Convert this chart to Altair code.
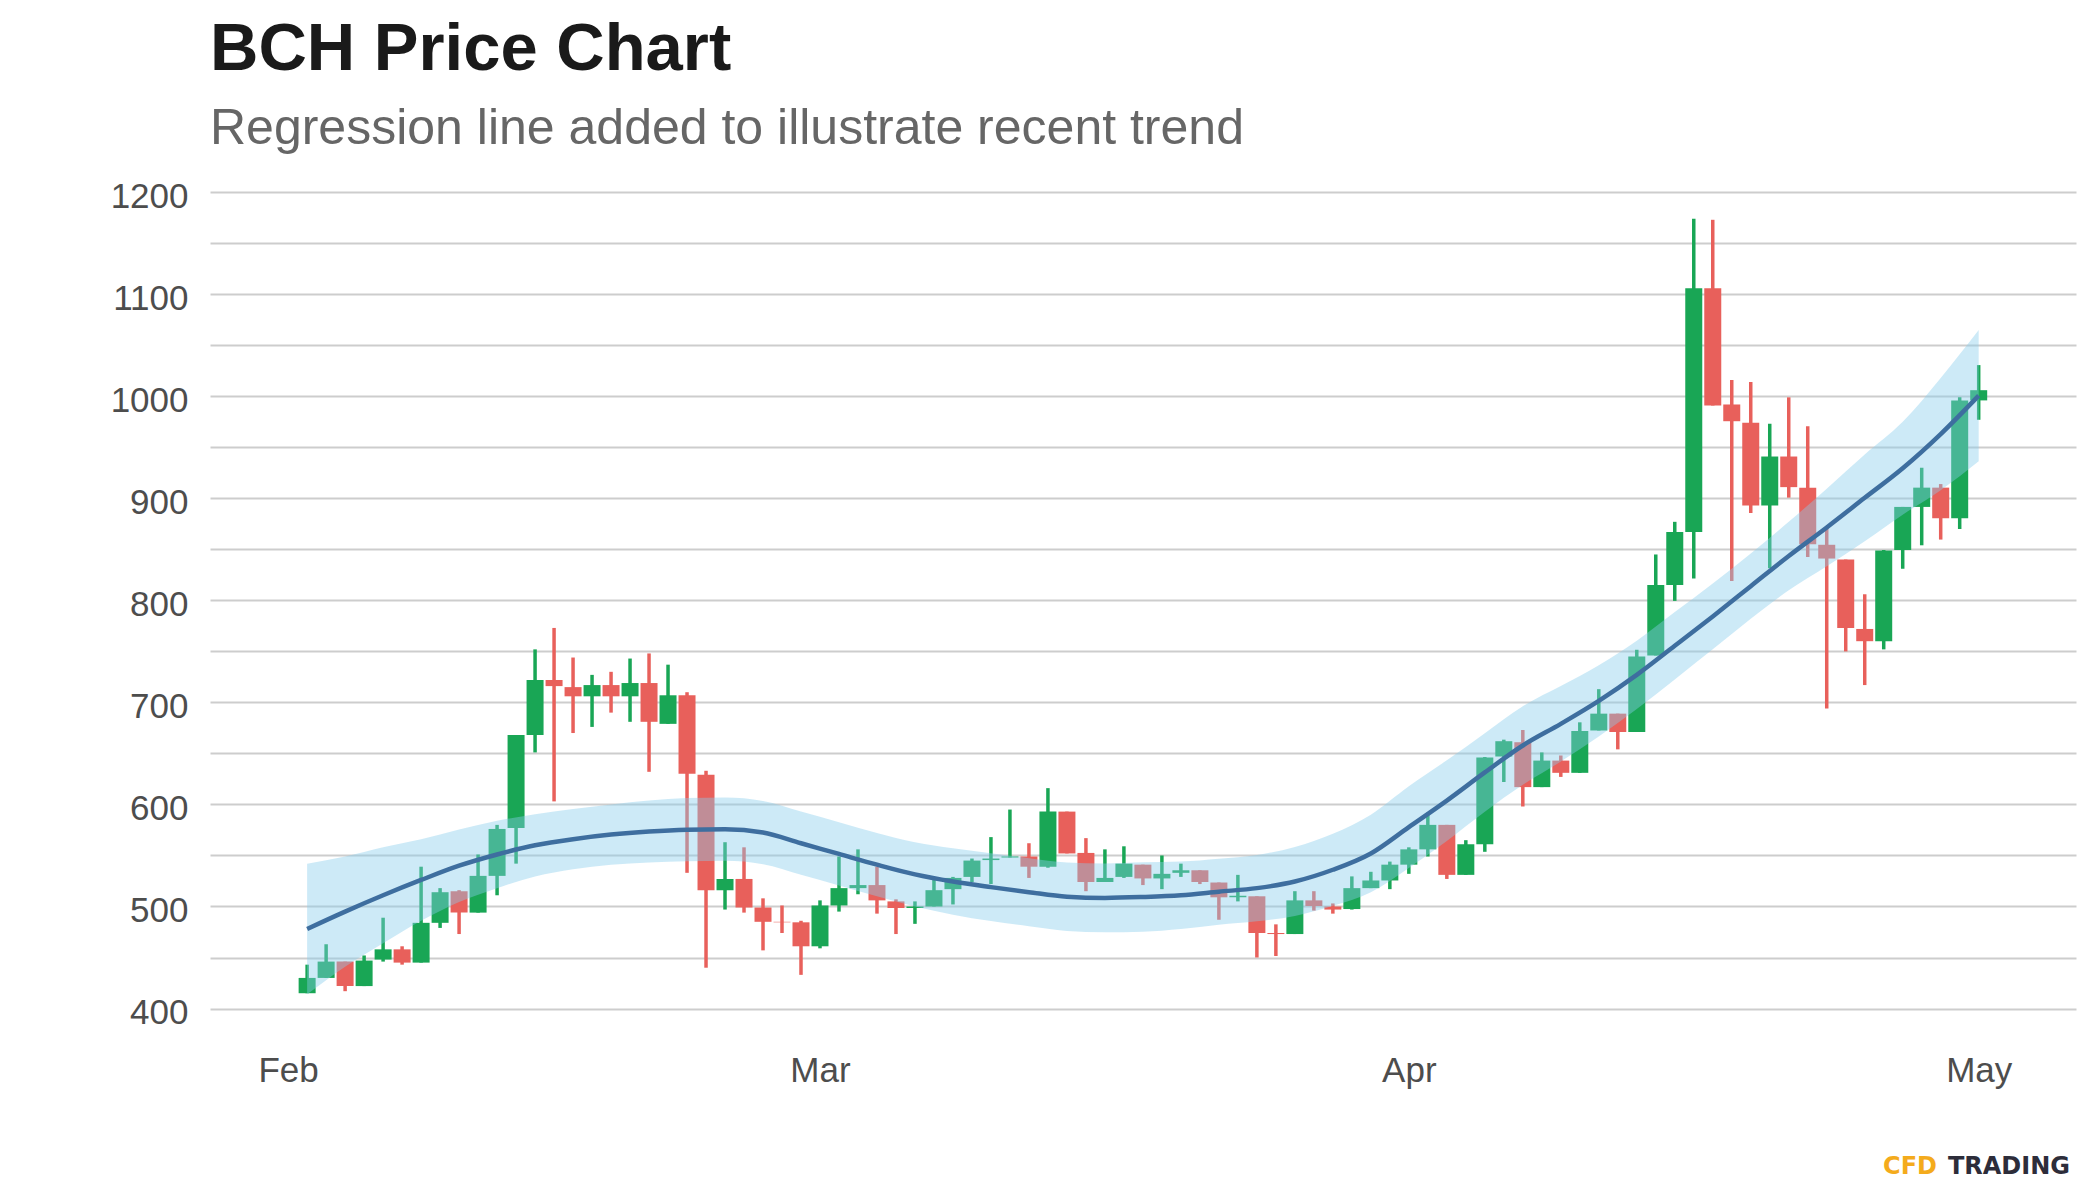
import altair as alt
import pandas as pd

# ---- data (daily BCH candles, 2 Feb - 1 May 2021) ----
start_date = "2021-02-02"
n_days = 89
dates = pd.date_range(start_date, periods=n_days, freq="D").strftime("%Y-%m-%d").tolist()

open_p = [415, 430, 446, 422, 448, 458, 445, 484, 515, 494,
          530, 577, 668, 722, 715, 706, 717, 706, 719, 679,
          707, 629, 516, 527, 499, 485, 484.5, 461, 501, 518,
          521, 505, 498.5, 500, 517, 529, 545.5, 548, 549, 539,
          593, 552.5, 524, 529, 541, 527.5, 533, 535.5, 523.5, 509,
          510, 474, 473, 506, 500, 497.5, 518, 525.5, 541, 556,
          580, 531, 561, 647, 661, 617, 643, 631, 672.5, 689,
          671, 746, 815, 867, 1106, 992, 974, 893, 941, 910.5,
          854.5, 840, 772, 760, 849.4, 891.6, 910.5, 880.5, 996]
high_p = [443, 463, 446, 452, 489, 461, 539, 518, 516, 551,
          580, 668, 752, 773, 744, 727, 730, 743, 748, 737,
          710, 633, 563, 558, 508, 501, 486, 506, 549, 556,
          539, 507, 505, 526, 529, 547, 568, 595, 562, 616,
          593, 567, 556, 559, 541, 550, 542, 535.5, 523.5, 531,
          510, 482.5, 515, 515, 503, 529.5, 534, 544, 558, 592,
          580, 565, 646.5, 663.5, 673, 651, 648, 680.5, 713, 689,
          751.6, 845, 877, 1174, 1173, 1016, 1014, 973, 999, 970.6,
          872, 840, 806, 849.4, 891.6, 930, 914, 999, 1030.6]
low_p = [415, 430, 417, 422, 446, 443, 445, 479, 473, 494,
         511, 542, 651, 603, 670, 676, 690, 681, 632, 679,
         533, 440, 497, 494, 457, 474, 433, 459, 495, 512,
         493, 473, 483, 500, 502, 524, 522, 548, 528, 538,
         552, 515, 524, 528, 521, 517, 529, 522, 487, 505,
         450, 451.5, 473, 496, 493, 497, 518, 517, 532, 549,
         527, 531, 553.6, 622, 598, 617, 627, 631, 672.5, 654,
         671, 746, 799.5, 821.5, 991, 819, 885.6, 831.6, 900.7, 842.4,
         694, 750, 717, 752, 831, 854, 859.6, 870, 977]
close_p = [430, 446, 422, 447, 458, 445, 484, 514, 494, 530,
           576, 668, 722, 716, 706, 717, 706, 719, 681, 707,
           630, 516, 527, 499, 485, 484.5, 461, 501, 518, 521,
           506, 498.5, 500, 516, 528, 545, 547, 549, 539, 593,
           552, 524, 528, 542, 527.5, 532, 535.5, 524, 509, 510.5,
           474, 473, 506, 500.5, 497, 518, 525.5, 541, 556, 580,
           531, 561, 646, 662, 617, 643, 631, 672, 689, 671,
           745, 815, 867, 1106, 991, 975.6, 893, 941, 911, 855,
           841, 773, 760, 849, 891.6, 910.5, 880.5, 996, 1006]

# regression (smooth) line and its band, read every second day
smooth_dates = dates[::2]
smooth_fit = [478, 495, 511, 526, 540, 551, 560, 566, 570.5, 573.5,
              575.3, 575.8, 572.5, 562, 551.5, 541, 531.5, 524.5, 519, 514,
              509.6, 508.4, 509.3, 511, 514.5, 518, 524.5, 536, 552, 577.8,
              603.8, 631.4, 657.8, 679, 701.5, 727, 755.5, 784.3, 813.9, 843.5,
              871.5, 900.5, 929.5, 963, 1000.7]
smooth_hi = [542, 549, 558, 566, 575.5, 584, 590.5, 595.5, 600, 603.8,
             606.3, 606.8, 603.5, 593, 582.5, 572, 563, 557, 552.3, 547.3,
             543.1, 542.1, 543.3, 544, 546.8, 550.5, 558.3, 571.3, 590, 617.8,
             643.3, 669.9, 696.3, 716, 736.5, 760.5, 788.5, 816.6, 845.9, 877,
             909.5, 943, 975, 1018, 1065]
smooth_lo = [414, 441, 464, 486, 504.5, 518, 529.5, 536.5, 541, 543.2,
             544.3, 544.8, 541.5, 531, 520.5, 510, 500, 492, 485.7, 480.7,
             476.1, 474.7, 475.3, 478, 482.2, 485.5, 490.7, 500.7, 514, 537.8,
             564.3, 592.9, 619.3, 642, 666.5, 693.5, 722.5, 752, 781.9, 810,
             833.5, 858, 884, 908, 936.4]

y_ticks = list(range(400, 1201, 50))
month_ticks = [2, 3, 4, 5]

# ---- tables ----
candles = pd.DataFrame({"date": dates, "open": open_p, "high": high_p,
                        "low": low_p, "close": close_p})
candles["dir"] = ["up" if c >= o else "down" for o, c in zip(open_p, close_p)]
smooth = pd.DataFrame({"date": smooth_dates, "fit": smooth_fit,
                       "lo": smooth_lo, "hi": smooth_hi})

GREEN = "#19a655"
RED = "#e8605b"
FONT = "Liberation Sans"

x_scale = alt.Scale(
    type="utc",
    domain=[alt.DateTime(year=2021, month=1, date=28, hours=3, minutes=36, utc=True),
            alt.DateTime(year=2021, month=5, date=5, hours=20, minutes=38, utc=True)],
)
y_scale = alt.Scale(domain=[377, 1212], nice=False, zero=False)
color_scale = alt.Scale(domain=["up", "down"], range=[GREEN, RED])

x_axis = alt.Axis(
    title=None, grid=False, domain=False, ticks=False,
    values=[alt.DateTime(year=2021, month=m, date=1, utc=True) for m in month_ticks],
    labelExpr="utcFormat(datum.value, '%b')",
    labelFont=FONT, labelFontSize=35, labelColor="#4d4d4d", labelPadding=21,
)
y_axis = alt.Axis(
    title=None, domain=False, ticks=False, values=y_ticks,
    labelExpr="datum.value % 100 === 0 ? format(datum.value, 'd') : ''",
    grid=True, gridColor="#cdcdcd", gridWidth=1.8,
    labelFont=FONT, labelFontSize=35, labelColor="#4d4d4d", labelPadding=22,
    labelOffset=4,
)

base = alt.Chart(candles).encode(
    x=alt.X("date:T", scale=x_scale, axis=x_axis),
    color=alt.Color("dir:N", scale=color_scale, legend=None),
)

wicks = base.mark_rule(strokeWidth=3.5).encode(
    y=alt.Y("low:Q", scale=y_scale, axis=y_axis),
    y2="high:Q",
)
bodies = base.mark_bar(size=17).encode(
    y=alt.Y("open:Q", scale=y_scale),
    y2="close:Q",
)

band = alt.Chart(smooth).mark_area(
    color="#87ceeb", opacity=0.42, interpolate="monotone"
).encode(
    x=alt.X("date:T", scale=x_scale),
    y=alt.Y("lo:Q", scale=y_scale),
    y2="hi:Q",
)
fit_line = alt.Chart(smooth).mark_line(
    color="#3e6e9f", strokeWidth=4.5, interpolate="monotone"
).encode(
    x=alt.X("date:T", scale=x_scale),
    y=alt.Y("fit:Q", scale=y_scale),
)

logo_left = pd.DataFrame({"word": ["CFD"]})
logo_right = pd.DataFrame({"word": ["TRADING"]})
logo_cfd = alt.Chart(logo_left).mark_text(
    font="DejaVu Sans", fontWeight="bold", fontSize=24, color="#f4ab1c",
    align="right", baseline="alphabetic",
).encode(x=alt.value(1727), y=alt.value(994), text="word:N")
logo_trading = alt.Chart(logo_right).mark_text(
    font="DejaVu Sans", fontWeight="bold", fontSize=24, color="#2d2d3a",
    align="right", baseline="alphabetic",
).encode(x=alt.value(1860), y=alt.value(994), text="word:N")

chart = alt.layer(wicks, bodies, band, fit_line, logo_cfd, logo_trading).properties(
    width=1866,
    height=852,
    background="white",
    padding={"left": 102, "top": 8, "right": 5, "bottom": 2},
    title=alt.TitleParams(
        text="BCH Price Chart",
        subtitle="Regression line added to illustrate recent trend",
        anchor="start", frame="group",
        font=FONT, fontSize=67, fontWeight="bold", color="#1a1a1a",
        subtitleFont=FONT, subtitleFontSize=50, subtitleColor="#666666",
        subtitlePadding=20, offset=24,
    ),
).configure_view(strokeWidth=0)

chart.save("out.html", embed_options={"renderer": "svg", "actions": False})
